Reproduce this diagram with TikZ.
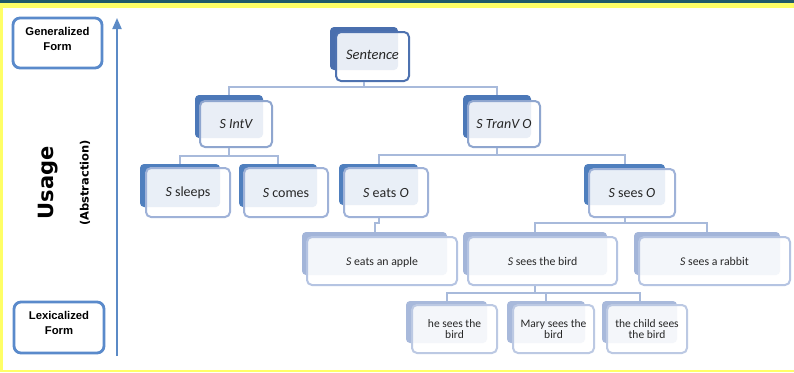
\documentclass[tikz,border=0pt]{standalone}
\usepackage{fontspec}
\setmainfont{Carlito}
\newfontfamily\lsans{Liberation Sans}
\newfontfamily\dvs{DejaVu Sans}
\usetikzlibrary{fit,arrows.meta}
\definecolor{cTop}{HTML}{215A68}
\definecolor{cYel}{HTML}{FFFF66}
\definecolor{cSide}{HTML}{5A8ACB}
\definecolor{cAxis}{HTML}{5B8AC6}
\definecolor{cConn}{HTML}{A8BADB}
\definecolor{bA}{HTML}{4A6FAE}\definecolor{fA}{HTML}{4E72B0}
\definecolor{bB}{HTML}{4C78B8}\definecolor{fB}{HTML}{8FA6CF}
\definecolor{bC}{HTML}{4F7FBE}\definecolor{fC}{HTML}{9FB2D8}
\definecolor{bD}{HTML}{A3B5D9}\definecolor{fD}{HTML}{B5C4E2}
\definecolor{bE}{HTML}{A8B9DB}\definecolor{fE}{HTML}{BCC9E3}
\newcommand\treebox[6]{%
  \node[back, fill=b#2, fit={#3}] (#1B) {};
  \node[front, draw=f#2, fit={#4}] (#1) {\raisebox{#6}{#5}};}
\newcommand\twoline[1]{{\renewcommand\arraystretch{0.92}\begin{tabular}{@{}c@{}}#1\end{tabular}}}
\begin{document}
\begin{tikzpicture}[x=1pt,y=-1pt,
  back/.style={inner sep=0pt, rounded corners=4pt},
  front/.style={inner sep=0pt, rounded corners=5pt, line width=2pt,
    fill=white, fill opacity=0.88, text opacity=1, text=black!85,
    font=\fontsize{14}{16}\selectfont},
  conn/.style={draw=cConn, line width=2pt},
  sidebox/.style={draw=cSide, line width=2.8pt, rounded corners=7pt,
    inner sep=0pt, align=center, font=\lsans\bfseries\fontsize{11.3}{15}\selectfont},
  axis/.style={draw=cAxis, line width=2pt, -{Triangle[width=9pt,length=11pt]}}]
\useasboundingbox (0,0) rectangle (794,372);
\fill[white] (0,0) rectangle (794,372);
\fill[cYel] (0,3) rectangle (794,8);
\fill[cTop] (0,0) rectangle (794,3);
\fill[cYel] (0,3) rectangle (3,372);
\fill[cYel] (0,369.5) rectangle (794,371.5);
% side
\node[sidebox, fit={(13,18) (102,68)}] (gen) {Generalized\\Form};
\node[sidebox, fit={(14,302) (104,353)}] (lex) {Lexicalized\\Form};
\coordinate (atop) at (117,18);
\coordinate (abot) at (117,356);
\draw[axis] (abot) -- (atop);
\node[rotate=90, font=\dvs\bfseries\fontsize{21}{21}\selectfont] (usage) at (48,183) {Usage};
\node[rotate=90, font=\dvs\bfseries\fontsize{11.5}{12}\selectfont] (abs) at (85,183) {(Abstraction)};
% tree
\treebox{sent}{A}{(330,27) (398,70)}{(336,32) (409,81)}{\fontsize{14.5}{16}\selectfont\itshape Sentence}{-7pt}
\treebox{intv}{B}{(195,95) (263,138)}{(200,101) (272,147)}{\itshape S IntV}{-10pt}
\treebox{tranv}{B}{(463,95) (531,138)}{(468,101) (540,147)}{\itshape S TranV O}{-10pt}
\treebox{sleeps}{C}{(140,164) (220,207)}{(146,168) (230,217)}{\textit{S} sleeps}{-11pt}
\treebox{comes}{C}{(239,164) (317,207)}{(244,168) (328,217)}{\textit{S} comes}{-11pt}
\treebox{eats}{C}{(339,164) (418,205)}{(344,168) (428,217)}{\textit{S} eats \textit{O}}{-10pt}
\treebox{sees}{C}{(584,164) (665,205)}{(589,169) (675,217)}{\textit{S} sees \textit{O}}{-10pt}
\treebox{apple}{D}{(302,232) (447,275)}{(307,237) (457,285)}{\fontsize{11.8}{12.5}\selectfont\textit{S} eats an apple}{-10pt}
\treebox{bird}{D}{(463,232) (607,275)}{(468,237) (617,285)}{\fontsize{11.8}{12.5}\selectfont\textit{S} sees the bird}{-10pt}
\treebox{rabbit}{D}{(634,232) (780,275)}{(639,237) (790,285)}{\fontsize{11.8}{12.5}\selectfont\textit{S} sees a rabbit}{-10pt}
\treebox{he}{E}{(406,301) (487,343)}{(412,305) (497,353)}{\fontsize{11.5}{12.5}\selectfont\twoline{he sees the\\bird}}{-18pt}
\treebox{mary}{E}{(507,301) (585,343)}{(513,305) (594,353)}{\fontsize{11.5}{12.5}\selectfont\twoline{Mary sees the\\bird}}{-18pt}
\treebox{child}{E}{(602,301) (677,343)}{(607,305) (687,353)}{\fontsize{11.5}{12.5}\selectfont\twoline{the child sees\\the bird}}{-18pt}
% buses
\coordinate (bus1) at (0,87);
\coordinate (bus2) at (0,156);
\coordinate (bus3) at (0,155);
\coordinate (bus4) at (0,223);
\coordinate (bus5) at (0,293);
\draw[conn] (sentB |- sent.south) -- (sentB |- bus1) -| (intvB.north);
\draw[conn] (sentB |- bus1) -| (tranvB.north);
\draw[conn] (intvB |- intv.south) -- (intvB |- bus2) -| (sleepsB.north);
\draw[conn] (intvB |- bus2) -| (comesB.north);
\draw[conn] (tranvB |- tranv.south) -- (tranvB |- bus3) -| (eatsB.north);
\draw[conn] (tranvB |- bus3) -| (seesB.north);
\draw[conn] (eatsB |- eats.south) -- (eatsB |- bus4) -| (appleB.north);
\draw[conn] (seesB |- sees.south) -- (seesB |- bus4) -| (birdB.north);
\draw[conn] (seesB |- bus4) -| (rabbitB.north);
\draw[conn] (birdB |- bird.south) -- (birdB |- bus5) -| (heB.north);
\draw[conn] (birdB |- bus5) -| (maryB.north);
\draw[conn] (birdB |- bus5) -| (childB.north);
\end{tikzpicture}
\end{document}
